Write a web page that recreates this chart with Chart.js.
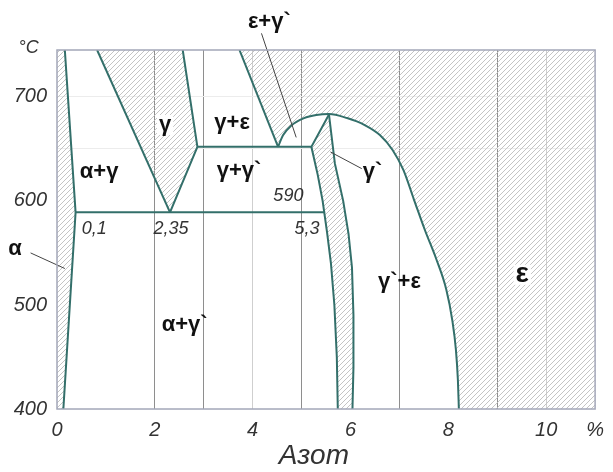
<!DOCTYPE html>
<html>
<head>
<meta charset="utf-8">
<script src="https://cdn.jsdelivr.net/npm/chart.js@4/dist/chart.umd.min.js"></script>
<style>
  html, body { margin: 0; padding: 0; background: #fff; }
</style>
</head>
<body>
<canvas id="chart" width="613" height="472"></canvas>
<script>
// Fe-N diagram, x = % nitrogen, y = °C
const xTicks = [0, 2, 4, 6, 8, 10]
const yTicks = [400, 500, 600, 700]
const xGridDark = [2, 3, 5, 7, 9]
const xGridLight = [4, 10]
const yGridFaint = [650, 700]

// phase boundaries
const alphaSolvus = [[0.16, 745], [0.38, 589], [0.13, 400]]
const gammaLeft = [[0.82, 745], [2.31, 589]]
const gammaRight = [[2.31, 589], [2.87, 652], [2.57, 745]]
const line590 = [[0.38, 589], [5.48, 589]]
const line650 = [[2.87, 652], [5.2, 652]]
const epsLeft = [[3.73, 745], [4.52, 652]]
const dome = [[4.52, 652], [4.62, 663], [4.78, 672], [5.05, 679.5], [5.3, 682.5], [5.56, 683.5],
  [5.93, 679.6], [6.29, 672.9], [6.6, 663.3], [6.86, 648.9], [7.08, 629.7], [7.3, 600.8],
  [7.52, 572], [7.76, 543.2], [7.96, 514.4], [8.08, 485.5], [8.155, 456.7], [8.195, 427.9], [8.215, 400]]
const gpLeft = [[5.56, 683], [5.2, 652], [5.33, 625], [5.43, 600], [5.52, 570], [5.6, 540],
  [5.67, 500], [5.72, 450], [5.74, 400]]
const gpRight = [[5.56, 683], [5.68, 636], [5.85, 600], [5.96, 568], [6.03, 536], [6.06, 490],
  [6.06, 440], [6.04, 400]]

// single-phase (hatched) fields
const alphaField = [[0, 745], [0.16, 745], [0.38, 589], [0.13, 400], [0, 400]]
const gammaField = [[0.82, 745], [2.31, 589], [2.87, 652], [2.57, 745]]
const epsFieldLeft = [[3.73, 745], [4.52, 652], [4.52, 745]]
const epsFieldRight = [[8.215, 400], [11, 400], [11, 745], [8.215, 745]]
const gpField = gpLeft.concat(gpRight.slice(1).reverse())

// leader lines
const leaderAlpha = [[-0.54, 550], [0.16, 535]]
const leaderGp = [[6.23, 631], [5.59, 647]]
const leaderEpsGp = [[4.18, 761], [4.89, 661]]

const phaseLabels = [
  ["α+γ", 0.86, 628, "phase"],
  ["γ", 2.21, 673, "boxed"],
  ["γ+ε", 3.58, 675, "phase"],
  ["γ+γ`", 3.72, 629, "phase"],
  ["α+γ`", 2.61, 481, "phase"],
  ["γ`+ε", 7.0, 522, "phase"],
  ["γ`", 6.45, 628, "phase"],
  ["ε+γ`", 4.34, 772, "phase"],
  ["α", -0.86, 554, "phase"],
  ["ε", 9.51, 529, "big"],
  ["590", 4.73, 605, "num"],
  ["0,1", 0.76, 573, "num"],
  ["2,35", 2.33, 573, "num"],
  ["5,3", 5.11, 573, "num"],
  ["°C", -0.58, 747, "num"],
  ["Азот", 5.25, 355, "axis"]
]

const fonts = {
  phase: "bold 22px 'Liberation Sans'",
  boxed: "bold 22px 'Liberation Sans'",
  big: "bold 28px 'Liberation Sans'",
  num: "italic 18px 'Liberation Sans'",
  axis: "italic 28px 'Liberation Sans'"
}

function makeHatch() {
  const c = document.createElement("canvas")
  c.width = 5
  c.height = 5
  const g = c.getContext("2d")
  g.strokeStyle = "#bdbdbd"
  g.lineWidth = 0.9
  g.beginPath()
  g.moveTo(0, 5); g.lineTo(5, 0)
  g.moveTo(-1, 1); g.lineTo(1, -1)
  g.moveTo(4, 6); g.lineTo(6, 4)
  g.stroke()
  return g.createPattern(c, "repeat")
}
const hatch = makeHatch()

const pts = a => a.map(([x, y]) => ({ x, y }))

function phaseLine(arr, extra) {
  return Object.assign({
    data: pts(arr), showLine: true, pointRadius: 0, borderColor: "#336f6a",
    borderWidth: 2, fill: false, tension: 0
  }, extra)
}
function hatchArea(arr) {
  return {
    data: pts(arr), showLine: true, pointRadius: 0, borderWidth: 0,
    borderColor: "rgba(0,0,0,0)", backgroundColor: hatch, fill: "shape", tension: 0
  }
}
function leader(arr) {
  return phaseLine(arr, { borderColor: "#444", borderWidth: 1, clip: false })
}

const labelPlugin = {
  id: "phaseLabels",
  afterDatasetsDraw(chart) {
    const { ctx, scales: { x, y } } = chart
    ctx.save()
    ctx.textAlign = "center"
    ctx.textBaseline = "middle"
    for (const [text, vx, vy, kind] of phaseLabels) {
      const px = x.getPixelForValue(vx)
      const py = y.getPixelForValue(vy)
      ctx.font = fonts[kind]
      if (kind === "boxed" || kind === "big") {
        const w = ctx.measureText(text).width
        ctx.fillStyle = "#fff"
        ctx.fillRect(px - w / 2 - 2, py - 10, w + 4, 20)
      }
      ctx.fillStyle = (kind === "num" || kind === "axis") ? "#333" : "#111"
      ctx.fillText(text, px, py)
    }
    ctx.restore()
  }
}

const framePlugin = {
  id: "frame",
  afterDraw(chart) {
    const { ctx, chartArea: a } = chart
    ctx.save()
    ctx.strokeStyle = "#a3a7b8"
    ctx.lineWidth = 1.5
    ctx.strokeRect(a.left, a.top, a.right - a.left, a.bottom - a.top)
    ctx.restore()
  }
}

const tickFont = { family: "'Liberation Sans'", size: 20, style: "italic" }

new Chart(document.getElementById("chart"), {
  type: "scatter",
  data: {
    datasets: [
      leader(leaderAlpha),
      leader(leaderGp),
      leader(leaderEpsGp),
      phaseLine(alphaSolvus),
      phaseLine(gammaLeft),
      phaseLine(gammaRight),
      phaseLine(line590),
      phaseLine(line650),
      phaseLine(epsLeft),
      phaseLine(gpLeft),
      phaseLine(gpRight),
      phaseLine(dome, { cubicInterpolationMode: "monotone", fill: "end", backgroundColor: hatch }),
      hatchArea(alphaField),
      hatchArea(gammaField),
      hatchArea(epsFieldLeft),
      hatchArea(epsFieldRight),
      hatchArea(gpField)
    ]
  },
  options: {
    responsive: false,
    animation: false,
    layout: { padding: { top: 50, right: 9, left: 0, bottom: 0 } },
    plugins: { legend: { display: false }, tooltip: { enabled: false } },
    scales: {
      x: {
        type: "linear", min: 0, max: 11,
        afterBuildTicks: s => {
          const vals = [...new Set(xTicks.concat(xGridDark, xGridLight, [11]))].sort((a, b) => a - b)
          s.ticks = vals.map(v => ({ value: v }))
        },
        afterFit: s => { s.height = 63 },
        border: { display: false },
        grid: {
          drawTicks: false,
          color: c => xGridDark.includes(c.tick.value) ? "#8e8e8e" :
            xGridLight.includes(c.tick.value) ? "#cfcfcf" : "rgba(0,0,0,0)"
        },
        ticks: {
          autoSkip: false, maxRotation: 0, padding: 9, color: "#333", font: tickFont,
          callback: v => xTicks.includes(v) ? String(v) : (v === 11 ? "%" : "")
        }
      },
      y: {
        type: "linear", min: 400, max: 745,
        afterBuildTicks: s => {
          s.ticks = yTicks.concat(yGridFaint.filter(v => !yTicks.includes(v)))
            .sort((a, b) => a - b).map(v => ({ value: v }))
        },
        afterFit: s => { s.width = 57 },
        border: { display: false },
        grid: {
          drawTicks: false,
          color: c => yGridFaint.includes(c.tick.value) ? "#ececec" : "rgba(0,0,0,0)"
        },
        ticks: {
          padding: 10, color: "#333", font: tickFont,
          callback: v => yTicks.includes(v) ? String(v) : ""
        }
      }
    }
  },
  plugins: [labelPlugin, framePlugin]
})
</script>
</body>
</html>
